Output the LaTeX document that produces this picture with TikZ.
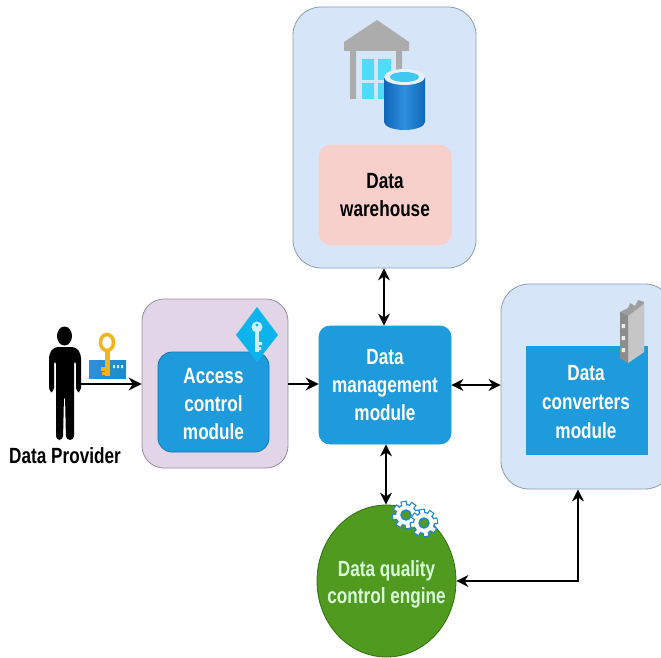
\documentclass[tikz,border=0pt]{standalone}
\usepackage{fontspec}
\setmainfont{Liberation Sans}[FakeStretch=0.78]
\usetikzlibrary{arrows.meta,shapes.geometric,calc}
\definecolor{panelblue}{HTML}{D6E6F8}
\definecolor{paneledge}{HTML}{8C9DB2}
\definecolor{modblue}{HTML}{1E9BDC}
\definecolor{modedge}{HTML}{1577B0}
\definecolor{pinkbox}{HTML}{F7D0CC}
\definecolor{purplebox}{HTML}{E1D5E7}
\definecolor{purpleedge}{HTML}{9A8CA6}
\definecolor{greenball}{HTML}{4F9A1F}
\definecolor{greenedge}{HTML}{2F7008}
\definecolor{keygold}{HTML}{F0B41E}
\definecolor{diamondblue}{HTML}{0DB4EC}
\definecolor{roofgrey}{HTML}{ACACAC}
\definecolor{winblue}{HTML}{4FDCF8}
\definecolor{cylblue}{HTML}{0F66B8}
\definecolor{cyllight}{HTML}{2E8FDE}
\definecolor{gearblue}{HTML}{1E86D0}
\tikzset{
  box/.style={draw=#1,line width=0.8pt,inner sep=0pt,align=center,font=\fontsize{22}{28}\selectfont\bfseries},
  panel/.style={box=paneledge,fill=panelblue,rounded corners=28pt},
  wtext/.style={text=white},
  conn/.style={line width=2pt,draw=black,-{Stealth[length=13pt,width=13pt]}},
  biconn/.style={line width=2pt,draw=black,{Stealth[length=12pt,width=12pt]}-{Stealth[length=12pt,width=12pt]}},
}
\newcommand{\gearicon}[2]{%
  \begin{scope}[shift={(#1,#2)}]
    \foreach \a in {0,45,...,315}
      \filldraw[fill=white,draw=gearblue,line width=1.2pt,rotate=\a+10] (-2.6,-13.5) rectangle (2.6,0);
    \fill[white] (0,0) circle (10.5);
    \draw[gearblue,line width=1.2pt] (0,0) circle (10.5);
    \foreach \a in {0,45,...,315}
      \fill[white,rotate=\a+10] (-1.9,-12.8) rectangle (1.9,-8);
    \fill[greenball,draw=gearblue,line width=1.4pt] (0,0) circle (5);
  \end{scope}}
\begin{document}
\begin{tikzpicture}[x=1pt,y=-1pt]
\useasboundingbox (0,0) rectangle (661,658);
% panels
\node[panel,minimum width=183pt,minimum height=261pt] (whouter) at (384.5,137.5) {};
\node[box=pinkbox,fill=pinkbox,rounded corners=12pt,minimum width=132pt,minimum height=100pt,text=black] (wh) at (385,195) {Data\\warehouse};
\node[box=purpleedge,fill=purplebox,rounded corners=22pt,minimum width=146pt,minimum height=169pt] (acouter) at (215,383.5) {};
\node[box=modedge,fill=modblue,wtext,rounded corners=14pt,minimum width=111pt,minimum height=100pt] (ac) at (213.5,402) {};
\node[wtext,align=center,inner sep=0pt,font=\fontsize{22}{28}\selectfont\bfseries] (actext) at (213.5,404) {Access\\control\\module};
\node[box=modblue,fill=modblue,wtext,rounded corners=11pt,minimum width=132pt,minimum height=118pt] (mg) at (385,385) {Data\\management\\module};
\node[panel,minimum width=172pt,minimum height=205pt] (dcouter) at (587,386.5) {};
\node[box=modblue,fill=modblue,wtext,minimum width=121pt,minimum height=108pt] (dc) at (586.5,400) {};
\node[wtext,align=center,inner sep=0pt,font=\fontsize{22}{29}\selectfont\bfseries] (dctext) at (586,402) {Data\\converters\\module};
\node[ellipse,draw=greenedge,fill=greenball,line width=0.8pt,minimum width=139pt,minimum height=152pt,inner sep=0pt] (dq) at (386.5,581) {};
\node[align=center,inner sep=0pt,text=white!85!green,font=\fontsize{22}{27}\selectfont\bfseries] (dqtext) at (386.5,584) {Data quality\\control engine};
% person
\fill[black] (64.5,336) ellipse (7.5 and 9.5);
\fill[black,rounded corners=4pt] (49,392) -- (49,354) -- (54,347) -- (76,347) -- (81,354) -- (81,392) -- (76,392) -- (76,360) -- (74,360) -- (74,440) -- (66,440) -- (65,395) -- (64,395) -- (63,440) -- (56,440) -- (56,360) -- (54,360) -- (54,392) -- cycle;
\coordinate (hand) at (81,384);
\node[font=\fontsize{22}{24}\selectfont\bfseries,text=black] (prov) at (65,456) {Data Provider};
% key card
\shade[left color=cyllight,right color=modblue!90!black] (89,360) rectangle (126,378);
\fill[white!85!modblue] (113,365) rectangle (115,368) (117,365) rectangle (119,368) (121,365) rectangle (123,368);
\fill[keygold] (104.5,351) rectangle (109.5,376);
\fill[keygold] (101,367) rectangle (105,371) (102,372) rectangle (105,375);
\draw[keygold,line width=3.6pt] (107,342.5) ellipse (6.5 and 8);
% diamond icon
\fill[diamondblue] (257,307) -- (278,335) -- (257,362) -- (236,335) -- cycle;
\fill[white!80!diamondblue] (257,327) circle (5.5);
\fill[white!80!diamondblue] (255,330) rectangle (259,352);
\fill[white!80!diamondblue] (259,342) rectangle (262,345) (259,347) rectangle (261,350);
\fill[diamondblue] (257,325) circle (1.6);
% warehouse icon
\fill[roofgrey] (377,20) -- (409,42) -- (409,51) -- (402,51) -- (402,99) -- (396,99) -- (396,51) -- (356,51) -- (356,99) -- (350,99) -- (350,51) -- (344,51) -- (344,42) -- cycle;
\fill[winblue] (362,59) rectangle (374,80) (378,59) rectangle (391,80) (362,83) rectangle (374,99) (378,83) rectangle (391,99);
\shade[left color=cylblue,right color=cylblue,middle color=cyllight] (384,77) -- (384,122) arc[start angle=180,end angle=0,x radius=20.5,y radius=8] -- (425,77) -- cycle;
\fill[panelblue!60!white] (404.5,77) ellipse (20.5 and 8);
\fill[winblue!70!modblue] (404.5,77) ellipse (14.5 and 5);
% building icon
\fill[gray!75] (620,312) -- (628,308) -- (630,303) -- (635,306) -- (638,300) -- (644,302) -- (644,352) -- (628,363) -- (620,358) -- cycle;
\fill[gray!45] (628,316) -- (644,304) -- (644,352) -- (628,363) -- cycle;
\fill[gray!90] (620,312) -- (628,316) -- (628,363) -- (620,358) -- cycle;
\fill[white!85!gray] (621.5,324) rectangle (625,328) (621.5,336) rectangle (625,340) (621.5,348) rectangle (625,352);
% gears
\gearicon{406}{515}
\gearicon{424}{523}
% connectors
\draw[conn] (hand) -- (acouter.west |- hand);
\draw[conn] (acouter.east |- 0,384) -- (mg.west |- 0,384);
\draw[biconn] (mg.east |- 0,385) -- (dcouter.west |- 0,385);
\draw[biconn] (whouter.south -| 384,0) -- (mg.north -| 384,0);
\draw[biconn] (mg.south -| 386,0) -- (dq.north -| 386,0);
\draw[biconn] (dq.east) -- (578,581) -- (dcouter.south -| 578,0);
\end{tikzpicture}
\end{document}
